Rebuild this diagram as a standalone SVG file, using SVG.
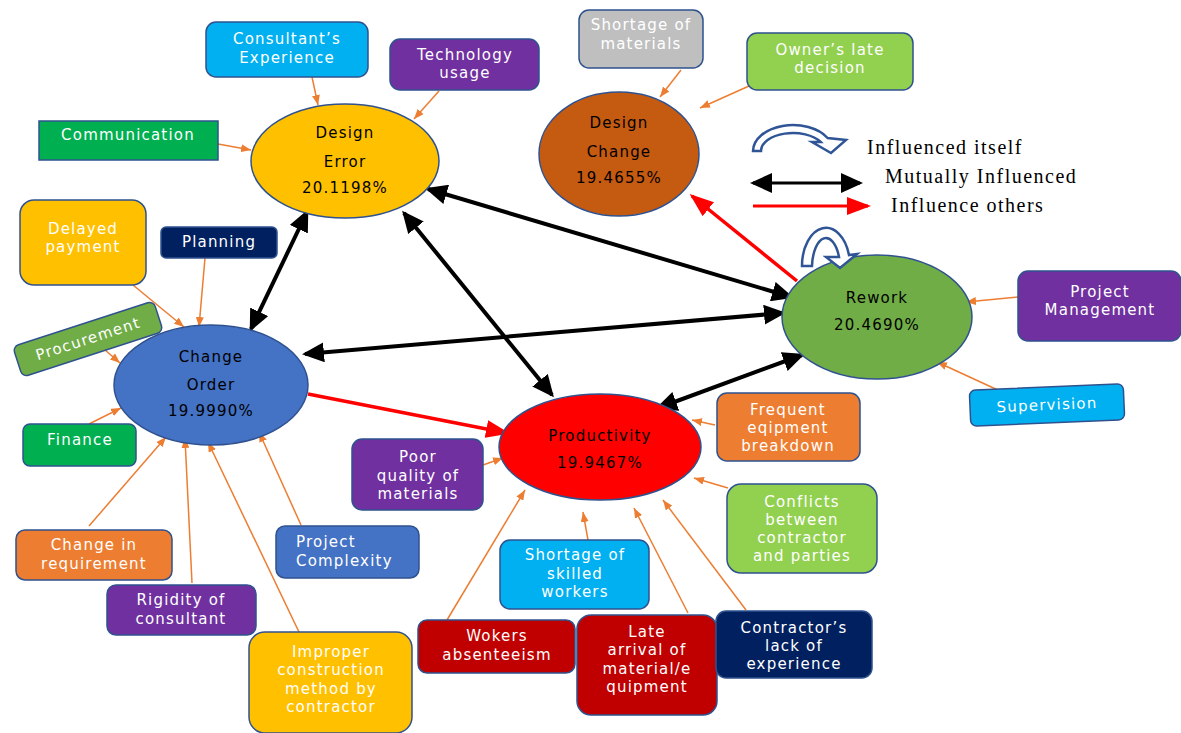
<svg xmlns="http://www.w3.org/2000/svg" width="1181" height="733" viewBox="0 0 1181 733">
<style>
.nd{stroke:#2F528F;stroke-width:1.5}
.el{stroke:#2F528F;stroke-width:1.5}
.bt{font-family:"DejaVu Sans",sans-serif;font-size:15px;fill:#fff;text-anchor:middle;letter-spacing:1.2px}
.et{font-family:"DejaVu Sans",sans-serif;font-size:15px;fill:#000;text-anchor:middle;letter-spacing:1.2px}
.lg{font-family:"Liberation Serif",serif;font-size:20px;fill:#000;letter-spacing:1.5px}
.bk{stroke:#000;stroke-width:4;fill:none;marker-start:url(#hb);marker-end:url(#hb)}
.rd{stroke:#FF0000;stroke-width:3.5;fill:none;marker-end:url(#hr)}
.or{stroke:#ED7D31;stroke-width:1.5;fill:none;marker-end:url(#ho)}
.loop{fill:#fff;stroke:#2F5597;stroke-width:2.5;stroke-linejoin:miter}
</style>
<defs>
<marker id="hb" viewBox="0 0 22 20" markerWidth="22" markerHeight="20" refX="19" refY="10" orient="auto-start-reverse" markerUnits="userSpaceOnUse"><path d="M0,0 L22,10 L0,20 Z" fill="#000"/></marker>
<marker id="hr" viewBox="0 0 24 18" markerWidth="24" markerHeight="18" refX="21" refY="9" orient="auto" markerUnits="userSpaceOnUse"><path d="M0,0 L24,9 L0,18 Z" fill="#FF0000"/></marker>
<marker id="ho" viewBox="0 0 10 8" markerWidth="10" markerHeight="8" refX="10" refY="4" orient="auto" markerUnits="userSpaceOnUse"><path d="M0,0 L10,4 L0,8 Z" fill="#ED7D31"/></marker>
</defs>
<rect width="1181" height="733" fill="#fff"/>

<g id="connectors">
<line class="bk" x1="307" y1="212" x2="251" y2="329"/>
<line class="bk" x1="404" y1="213" x2="552" y2="395"/>
<line class="bk" x1="428" y1="189" x2="791" y2="297"/>
<line class="bk" x1="305" y1="354" x2="783" y2="313"/>
<line class="bk" x1="658" y1="408" x2="802" y2="355"/>
<line class="rd" x1="308" y1="394" x2="507" y2="433"/>
<line class="rd" x1="797" y1="281" x2="692" y2="196"/>
<line class="or" x1="312" y1="77" x2="318" y2="105"/>
<line class="or" x1="439" y1="91" x2="414" y2="119"/>
<line class="or" x1="218" y1="144" x2="251" y2="150"/>
<line class="or" x1="681" y1="70" x2="660" y2="97"/>
<line class="or" x1="749" y1="86" x2="700" y2="108"/>
<line class="or" x1="133" y1="285" x2="184" y2="327"/>
<line class="or" x1="205" y1="258" x2="199" y2="327"/>
<line class="or" x1="105" y1="350" x2="120" y2="363"/>
<line class="or" x1="89" y1="424" x2="121" y2="408"/>
<line class="or" x1="89" y1="526" x2="166" y2="437"/>
<line class="or" x1="192" y1="583" x2="185" y2="438"/>
<line class="or" x1="299" y1="632" x2="208" y2="442"/>
<line class="or" x1="301" y1="525" x2="259" y2="432"/>
<line class="or" x1="483" y1="465" x2="503" y2="458"/>
<line class="or" x1="715" y1="425" x2="692" y2="420"/>
<line class="or" x1="728" y1="488" x2="694" y2="478"/>
<line class="or" x1="588" y1="540" x2="583" y2="512"/>
<line class="or" x1="447" y1="620" x2="525" y2="490"/>
<line class="or" x1="688" y1="613" x2="634" y2="508"/>
<line class="or" x1="746" y1="610" x2="663" y2="500"/>
<line class="or" x1="1018" y1="297" x2="966" y2="302"/>
<line class="or" x1="1000" y1="391" x2="937" y2="362"/>
</g>

<g id="design-error"><ellipse class="el" cx="345" cy="161" rx="94" ry="57" fill="#FFC000"/>
<text class="et" x="345" y="138">Design</text><text class="et" x="345" y="167">Error</text><text class="et" x="345" y="193">20.1198%</text></g>
<g id="design-change"><ellipse class="el" cx="619" cy="154" rx="80" ry="62" fill="#C55A11"/>
<text class="et" x="619" y="128">Design</text><text class="et" x="619" y="157">Change</text><text class="et" x="619" y="183">19.4655%</text></g>
<g id="rework"><ellipse class="el" cx="877" cy="317" rx="95" ry="62" fill="#70AD47"/>
<text class="et" x="877" y="303">Rework</text><text class="et" x="877" y="330">20.4690%</text></g>
<g id="change-order"><ellipse class="el" cx="211" cy="385" rx="97" ry="60" fill="#4472C4"/>
<text class="et" x="211" y="362">Change</text><text class="et" x="211" y="390">Order</text><text class="et" x="211" y="416">19.9990%</text></g>
<g id="productivity"><ellipse class="el" cx="600" cy="447" rx="101" ry="53" fill="#FF0000"/>
<text class="et" x="600" y="441">Productivity</text><text class="et" x="600" y="468">19.9467%</text></g>

<g id="rework-loop"><path class="loop" d="M802,266 A24,38 0 0 1 849,255 L857,254 L840,268 L826,257 L839,257 A14,30 0 0 0 812,266 Z"/></g>

<g id="consultants-experience"><rect class="nd" x="206" y="22" width="162" height="55" rx="10" fill="#00B0F0"/>
<text class="bt" x="287" y="44">Consultant’s</text><text class="bt" x="287" y="63">Experience</text></g>
<g id="technology-usage"><rect class="nd" x="390" y="39" width="149" height="51" rx="10" fill="#7030A0"/>
<text class="bt" x="465" y="60">Technology</text><text class="bt" x="465" y="78">usage</text></g>
<g id="communication"><rect class="nd" x="39" y="121" width="179" height="39" fill="#00B050"/>
<text class="bt" x="128" y="140">Communication</text></g>
<g id="shortage-materials"><rect class="nd" x="579" y="10" width="124" height="58" rx="10" fill="#BFBFBF"/>
<text class="bt" x="641" y="30">Shortage of</text><text class="bt" x="641" y="49">materials</text></g>
<g id="owners-late-decision"><rect class="nd" x="747" y="33" width="166" height="57" rx="10" fill="#92D050"/>
<text class="bt" x="830" y="55">Owner’s late</text><text class="bt" x="830" y="73">decision</text></g>
<g id="delayed-payment"><rect class="nd" x="20" y="200" width="126" height="85" rx="14" fill="#FFC000"/>
<text class="bt" x="83" y="234">Delayed</text><text class="bt" x="83" y="252">payment</text></g>
<g id="planning"><rect class="nd" x="161" y="227" width="116" height="31" rx="5" fill="#002060"/>
<text class="bt" x="219" y="247">Planning</text></g>
<g id="procurement" transform="translate(88,339) rotate(-18)"><rect class="nd" x="-74" y="-16" width="148" height="32" rx="6" fill="#70AD47"/>
<text class="bt" x="0" y="5">Procurement</text></g>
<g id="finance"><rect class="nd" x="23" y="424" width="113" height="42" rx="7" fill="#00B050"/>
<text class="bt" x="80" y="445">Finance</text></g>
<g id="change-in-requirement"><rect class="nd" x="16" y="530" width="156" height="50" rx="9" fill="#ED7D31"/>
<text class="bt" x="94" y="550">Change in</text><text class="bt" x="94" y="569">requirement</text></g>
<g id="rigidity-of-consultant"><rect class="nd" x="107" y="585" width="149" height="50" rx="9" fill="#7030A0"/>
<text class="bt" x="181" y="605">Rigidity of</text><text class="bt" x="181" y="624">consultant</text></g>
<g id="project-complexity"><rect class="nd" x="276" y="526" width="143" height="52" rx="9" fill="#4472C4"/>
<text class="bt" x="296" y="547" style="text-anchor:start">Project</text><text class="bt" x="296" y="566" style="text-anchor:start">Complexity</text></g>
<g id="improper-construction"><rect class="nd" x="249" y="632" width="163" height="101" rx="16" fill="#FFC000"/>
<text class="bt" x="331" y="657">Improper</text><text class="bt" x="331" y="675">construction</text><text class="bt" x="331" y="694">method by</text><text class="bt" x="331" y="712">contractor</text></g>
<g id="poor-quality"><rect class="nd" x="352" y="439" width="131" height="71" rx="10" fill="#7030A0"/>
<text class="bt" x="418" y="462">Poor</text><text class="bt" x="418" y="481">quality of</text><text class="bt" x="418" y="499">materials</text></g>
<g id="frequent-equipment"><rect class="nd" x="717" y="393" width="143" height="68" rx="10" fill="#ED7D31"/>
<text class="bt" x="788" y="415">Frequent</text><text class="bt" x="788" y="433">eqipment</text><text class="bt" x="788" y="451">breakdown</text></g>
<g id="conflicts"><rect class="nd" x="727" y="484" width="150" height="89" rx="14" fill="#92D050"/>
<text class="bt" x="802" y="507">Conflicts</text><text class="bt" x="802" y="525">between</text><text class="bt" x="802" y="543">contractor</text><text class="bt" x="802" y="561">and parties</text></g>
<g id="shortage-skilled"><rect class="nd" x="500" y="540" width="149" height="69" rx="10" fill="#00B0F0"/>
<text class="bt" x="575" y="560">Shortage of</text><text class="bt" x="575" y="579">skilled</text><text class="bt" x="575" y="597">workers</text></g>
<g id="workers-absenteeism"><rect class="nd" x="418" y="620" width="157" height="53" rx="9" fill="#C00000"/>
<text class="bt" x="497" y="641">Wokers</text><text class="bt" x="497" y="660">absenteeism</text></g>
<g id="late-arrival"><rect class="nd" x="577" y="615" width="140" height="100" rx="14" fill="#C00000"/>
<text class="bt" x="647" y="637">Late</text><text class="bt" x="647" y="655">arrival of</text><text class="bt" x="647" y="674">material/e</text><text class="bt" x="647" y="692">quipment</text></g>
<g id="contractor-experience"><rect class="nd" x="716" y="611" width="156" height="67" rx="10" fill="#002060"/>
<text class="bt" x="794" y="633">Contractor’s</text><text class="bt" x="794" y="651">lack of</text><text class="bt" x="794" y="669">experience</text></g>
<g id="project-management"><rect class="nd" x="1018" y="271" width="163" height="70" rx="10" fill="#7030A0"/>
<text class="bt" x="1100" y="297">Project</text><text class="bt" x="1100" y="315">Management</text></g>
<g id="supervision" transform="translate(1047,405) rotate(-2.5)"><rect class="nd" x="-77" y="-18" width="154" height="36" rx="6" fill="#00B0F0"/>
<text class="bt" x="0" y="5">Supervision</text></g>

<g id="legend">
<path class="loop" d="M753,151 A40,26 0 0 1 827.6,138 L846,140 L831,153 L812,142 L820.7,142 A32,18 0 0 0 761,151 Z"/>
<line x1="753" y1="183" x2="860" y2="183" style="stroke:#000;stroke-width:3;marker-start:url(#hb);marker-end:url(#hb)"/>
<line x1="753" y1="206" x2="868" y2="206" style="stroke:#FF0000;stroke-width:3;marker-end:url(#hr)"/>
<text class="lg" x="867" y="154">Influenced itself</text>
<text class="lg" x="885" y="183">Mutually Influenced</text>
<text class="lg" x="891" y="212">Influence others</text>
</g>
</svg>
